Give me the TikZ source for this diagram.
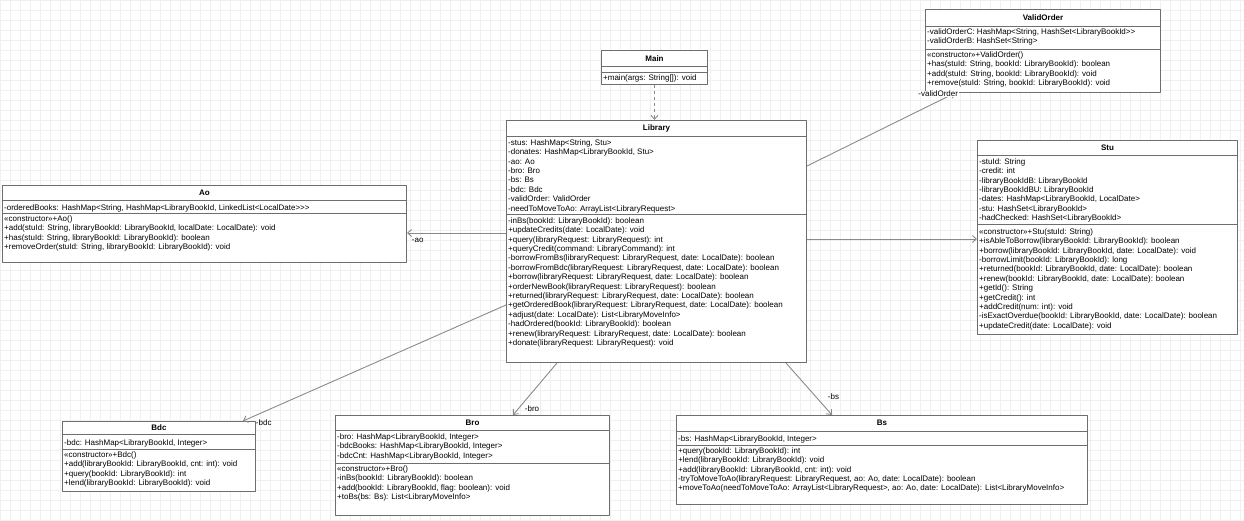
\documentclass[tikz,border=0pt]{standalone}
\usepackage{fontspec}
\setmainfont{Liberation Sans}
\usetikzlibrary{arrows.meta}
\definecolor{boxline}{HTML}{6E6E6E}
\definecolor{linkline}{HTML}{8A8A8A}
\definecolor{gridline}{HTML}{F0F0F0}
\begin{document}
\begin{tikzpicture}[x=1pt,y=-1pt,line join=round,
	font=\fontsize{8}{9.4}\selectfont,
	>={Straight Barb[length=4pt,width=7pt]},
	cls/.style={draw=boxline,line width=1pt,fill=white,anchor=north west,inner sep=0pt},
	sep/.style={draw=boxline,line width=0.8pt},
	ttl/.style={font=\fontsize{8}{9.4}\selectfont\bfseries,inner sep=0pt},
	txt/.style={anchor=north west,align=left,inner sep=0pt,execute at begin node=\strut},
	link/.style={draw=linkline,line width=0.9pt,->},
	role/.style={inner sep=0.5pt}]
	\useasboundingbox (0,0) rectangle (1244,521);
	\draw[gridline,step=10pt] (0,0) grid (1244,521);
	% class boxes
	\node[cls,minimum width=106,minimum height=34] (main) at (601,50) {};
	\node[cls,minimum width=300,minimum height=242] (lib) at (506,120) {};
	\node[cls,minimum width=235,minimum height=83] (vo) at (925,9) {};
	\node[cls,minimum width=260,minimum height=194] (stu) at (977,140) {};
	\node[cls,minimum width=404,minimum height=77] (ao) at (2,185) {};
	\node[cls,minimum width=193,minimum height=70] (bdc) at (62,421) {};
	\node[cls,minimum width=274,minimum height=100] (bro) at (335,415) {};
	\node[cls,minimum width=411,minimum height=89] (bs) at (676,415) {};
	% Main
	\node[ttl] (mainT) at (main.north |- 0,59) {Main};
	\draw[sep] (main.west |- 0,66) -- (main.east |- 0,66);
	\draw[sep] (main.west |- 0,72) -- (main.east |- 0,72);
	\node[txt] (mainM) at (603,73.8) {+main(args: String[]): void};
	% Library
	\node[ttl] (libT) at (lib.north |- 0,128) {Library};
	\draw[sep] (lib.west |- 0,136) -- (lib.east |- 0,136);
	\node[txt] (libA) at (508,139.3) {-stus: HashMap<String, Stu>\\
		-donates: HashMap<LibraryBookId, Stu>\\
		-ao: Ao\\
		-bro: Bro\\
		-bs: Bs\\
		-bdc: Bdc\\
		-validOrder: ValidOrder\\
		-needToMoveToAo: ArrayList<LibraryRequest>};
	\draw[sep] (lib.west |- 0,214.5) -- (lib.east |- 0,214.5);
	\node[txt] (libM) at (508,217.3) {-inBs(bookId: LibraryBookId): boolean\\
		+updateCredits(date: LocalDate): void\\
		+query(libraryRequest: LibraryRequest): int\\
		+queryCredit(command: LibraryCommand): int\\
		-borrowFromBs(libraryRequest: LibraryRequest, date: LocalDate): boolean\\
		-borrowFromBdc(libraryRequest: LibraryRequest, date: LocalDate): boolean\\
		+borrow(libraryRequest: LibraryRequest, date: LocalDate): boolean\\
		+orderNewBook(libraryRequest: LibraryRequest): boolean\\
		+returned(libraryRequest: LibraryRequest, date: LocalDate): boolean\\
		+getOrderedBook(libraryRequest: LibraryRequest, date: LocalDate): boolean\\
		+adjust(date: LocalDate): List<LibraryMoveInfo>\\
		-hadOrdered(bookId: LibraryBookId): boolean\\
		+renew(libraryRequest: LibraryRequest, date: LocalDate): boolean\\
		+donate(libraryRequest: LibraryRequest): void};
	% ValidOrder
	\node[ttl] (voT) at (vo.north |- 0,18) {ValidOrder};
	\draw[sep] (vo.west |- 0,26) -- (vo.east |- 0,26);
	\node[txt] (voA) at (927,28.6) {-validOrderC: HashMap<String, HashSet<LibraryBookId>{}>\\
		-validOrderB: HashSet<String>};
	\draw[sep] (vo.west |- 0,49) -- (vo.east |- 0,49);
	\node[txt] (voM) at (927,51.3) {«constructor»+ValidOrder()\\
		+has(stuId: String, bookId: LibraryBookId): boolean\\
		+add(stuId: String, bookId: LibraryBookId): void\\
		+remove(stuId: String, bookId: LibraryBookId): void};
	% Stu
	\node[ttl] (stuT) at (stu.north |- 0,148) {Stu};
	\draw[sep] (stu.west |- 0,155.5) -- (stu.east |- 0,155.5);
	\node[txt] (stuA) at (979,158.3) {-stuId: String\\
		-credit: int\\
		-libraryBookIdB: LibraryBookId\\
		-libraryBookIdBU: LibraryBookId\\
		-dates: HashMap<LibraryBookId, LocalDate>\\
		-stu: HashSet<LibraryBookId>\\
		-hadChecked: HashSet<LibraryBookId>};
	\draw[sep] (stu.west |- 0,224) -- (stu.east |- 0,224);
	\node[txt] (stuM) at (979,228.3) {«constructor»+Stu(stuId: String)\\
		+isAbleToBorrow(libraryBookId: LibraryBookId): boolean\\
		+borrow(libraryBookId: LibraryBookId, date: LocalDate): void\\
		-borrowLimit(bookId: LibraryBookId): long\\
		+returned(bookId: LibraryBookId, date: LocalDate): boolean\\
		+renew(bookId: LibraryBookId, date: LocalDate): boolean\\
		+getId(): String\\
		+getCredit(): int\\
		+addCredit(num: int): void\\
		-isExactOverdue(bookId: LibraryBookId, date: LocalDate): boolean\\
		+updateCredit(date: LocalDate): void};
	% Ao
	\node[ttl] (aoT) at (ao.north |- 0,193) {Ao};
	\draw[sep] (ao.west |- 0,200.5) -- (ao.east |- 0,200.5);
	\node[txt] (aoA) at (4,203.3) {-orderedBooks: HashMap<String, HashMap<LibraryBookId, LinkedList<LocalDate>{}>{}>};
	\draw[sep] (ao.west |- 0,213) -- (ao.east |- 0,213);
	\node[txt] (aoM) at (4,215.3) {«constructor»+Ao()\\
		+add(stuId: String, libraryBookId: LibraryBookId, localDate: LocalDate): void\\
		+has(stuId: String, libraryBookId: LibraryBookId): boolean\\
		+removeOrder(stuId: String, libraryBookId: LibraryBookId): void};
	% Bdc
	\node[ttl] (bdcT) at (bdc.north |- 0,428) {Bdc};
	\draw[sep] (bdc.west |- 0,434.5) -- (bdc.east |- 0,434.5);
	\node[txt] (bdcA) at (64,438.3) {-bdc: HashMap<LibraryBookId, Integer>};
	\draw[sep] (bdc.west |- 0,449) -- (bdc.east |- 0,449);
	\node[txt] (bdcM) at (64,451.3) {«constructor»+Bdc()\\
		+add(libraryBookId: LibraryBookId, cnt: int): void\\
		+query(bookId: LibraryBookId): int\\
		+lend(libraryBookId: LibraryBookId): void};
	% Bro
	\node[ttl] (broT) at (bro.north |- 0,423) {Bro};
	\draw[sep] (bro.west |- 0,430.5) -- (bro.east |- 0,430.5);
	\node[txt] (broA) at (337,433.3) {-bro: HashMap<LibraryBookId, Integer>\\
		-bdcBooks: HashMap<LibraryBookId, Integer>\\
		-bdcCnt: HashMap<LibraryBookId, Integer>};
	\draw[sep] (bro.west |- 0,463.5) -- (bro.east |- 0,463.5);
	\node[txt] (broM) at (337,465.3) {«constructor»+Bro()\\
		-inBs(bookId: LibraryBookId): boolean\\
		+add(bookId: LibraryBookId, flag: boolean): void\\
		+toBs(bs: Bs): List<LibraryMoveInfo>};
	% Bs
	\node[ttl] (bsT) at (bs.north |- 0,423) {Bs};
	\draw[sep] (bs.west |- 0,431) -- (bs.east |- 0,431);
	\node[txt] (bsA) at (678,434.3) {-bs: HashMap<LibraryBookId, Integer>};
	\draw[sep] (bs.west |- 0,445) -- (bs.east |- 0,445);
	\node[txt] (bsM) at (678,447.3) {+query(bookId: LibraryBookId): int\\
		+lend(libraryBookId: LibraryBookId): void\\
		+add(libraryBookId: LibraryBookId, cnt: int): void\\
		-tryToMoveToAo(libraryRequest: LibraryRequest, ao: Ao, date: LocalDate): boolean\\
		+moveToAo(needToMoveToAo: ArrayList<LibraryRequest>, ao: Ao, date: LocalDate): List<LibraryMoveInfo>};
	% connectors
	\draw[link,dashed] (main.south) -- (main.south |- lib.north);
	\draw[link] ([yshift=-46pt]lib.north east) -- ([xshift=30pt]vo.south west)
		node[role,fill=white,anchor=east,xshift=4pt,yshift=-1pt] {-validOrder};
	\draw[link] ([yshift=-119pt]lib.north east) coordinate (s1) -- (s1 -| stu.west);
	\draw[link] ([yshift=-113pt]lib.north west) coordinate (a1) -- (a1 -| ao.east)
		node[role,anchor=north west,xshift=4pt,yshift=-4pt] {-ao};
	\draw[link] ([yshift=-185pt]lib.north west) -- ([xshift=181pt]bdc.north west)
		node[role,anchor=west,xshift=12pt,yshift=-2pt] {-bdc};
	\draw[link] ([xshift=51pt]lib.south west) -- ([xshift=178pt]bro.north west)
		node[role,anchor=west,xshift=11pt,yshift=6pt] {-bro};
	\draw[link] ([xshift=-21pt]lib.south east) -- ([xshift=156pt]bs.north west)
		node[role,anchor=west,xshift=-5pt,yshift=18pt] {-bs};
\end{tikzpicture}
\end{document}
